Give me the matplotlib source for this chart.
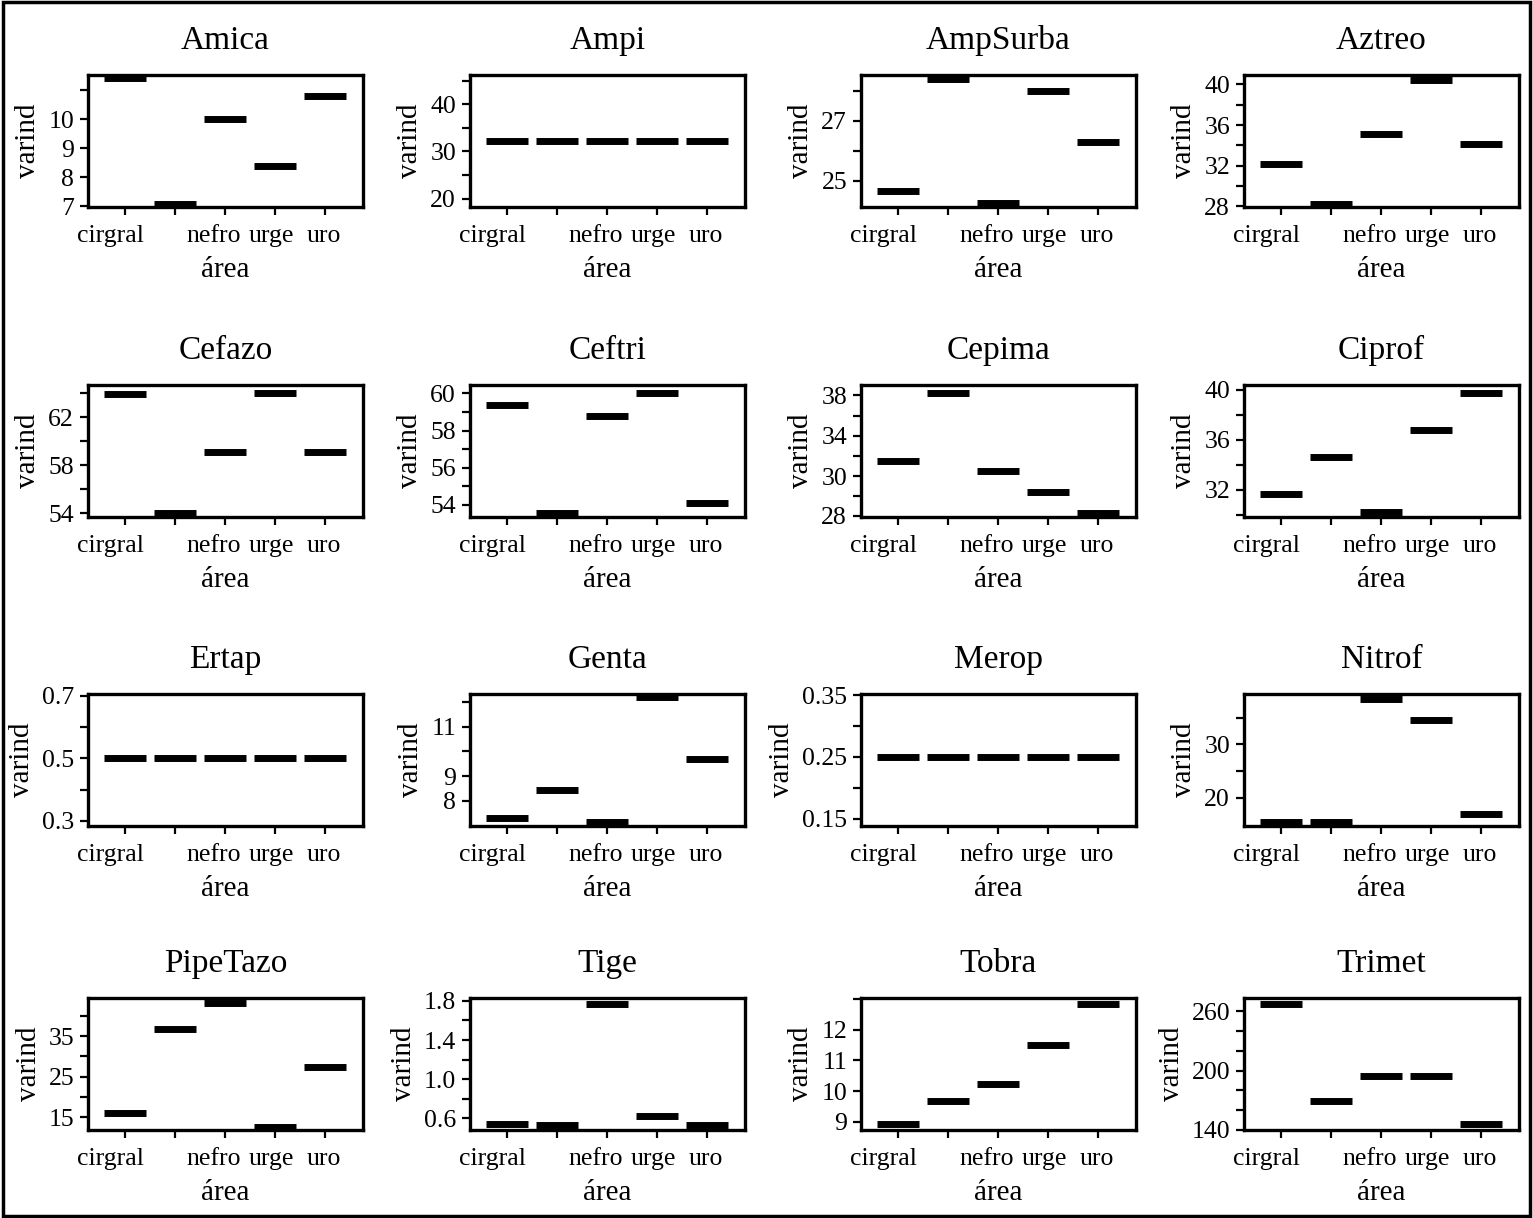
import numpy as np
import matplotlib
matplotlib.use("Agg")
import matplotlib.pyplot as plt
from matplotlib.patches import Rectangle
from matplotlib.transforms import ScaledTranslation

plt.rcParams['font.family'] = ['Liberation Serif', 'DejaVu Serif']

# categories on the x axis (second label is blank in the original)
areas = ['cirgral', 'ginec', 'nefro', 'urge', 'uro']
area_labels = ['cirgral', '', 'nefro', 'urge', 'uro']

antibiotics = ['Amica', 'Ampi', 'AmpSurba', 'Aztreo',
               'Cefazo', 'Ceftri', 'Cepima', 'Ciprof',
               'Ertap', 'Genta', 'Merop', 'Nitrof',
               'PipeTazo', 'Tige', 'Tobra', 'Trimet']

# varind per area, one row per antibiotic
varind = [
    [11.4, 7.1, 10.0, 8.4, 10.8],
    [32.1, 32.1, 32.1, 32.1, 32.1],
    [24.65, 28.4, 24.25, 28.0, 26.3],
    [32.2, 28.2, 35.1, 40.4, 34.1],
    [63.95, 54.0, 59.1, 64.0, 59.1],
    [59.35, 53.55, 58.8, 60.0, 54.1],
    [31.55, 38.25, 30.55, 28.45, 26.4],
    [31.65, 34.6, 30.2, 36.8, 39.75],
    [0.5, 0.5, 0.5, 0.5, 0.5],
    [7.3, 8.45, 7.15, 12.2, 9.7],
    [0.25, 0.25, 0.25, 0.25, 0.25],
    [15.35, 15.35, 38.6, 34.6, 16.9],
    [15.9, 36.85, 43.2, 12.6, 27.35],
    [0.545, 0.53, 1.765, 0.625, 0.53],
    [8.92, 9.68, 10.25, 11.5, 12.85],
    [267.4, 169.0, 195.0, 195.0, 146.0],
]

y_limits = [
    (6.98, 11.52), (18.2, 46.2), (24.12, 28.53), (27.93, 40.93),
    (53.7, 64.7), (53.35, 60.45), (25.97, 39.02), (29.8, 40.4),
    (0.284, 0.705), (6.98, 12.32), (0.138, 0.352), (14.65, 39.45),
    (11.8, 44.45), (0.48, 1.83), (8.74, 13.03), (140.3, 273.5),
]

y_ticks = [
    [7, 8, 9, 10, 11],
    [20, 25, 30, 35, 40, 45],
    [25, 26, 27, 28],
    [28, 30, 32, 34, 36, 38, 40],
    [54, 56, 58, 60, 62, 64],
    [54, 55, 56, 57, 58, 59, 60],
    [26.1, 28, 30, 32, 34, 36, 38],
    [30, 32, 34, 36, 38, 40],
    [0.3, 0.4, 0.5, 0.6, 0.7],
    [8, 9, 10, 11, 12],
    [0.15, 0.2, 0.25, 0.3, 0.35],
    [20, 25, 30, 35],
    [15, 20, 25, 30, 35, 40],
    [0.6, 0.8, 1.0, 1.2, 1.4, 1.6, 1.8],
    [9, 10, 11, 12, 13],
    [140, 160, 180, 200, 220, 240, 260],
]

y_ticklabels = [
    ['7', '8', '9', '10', ''],
    ['20', '', '30', '', '40', ''],
    ['25', '', '27', ''],
    ['28', '', '32', '', '36', '', '40'],
    ['54', '', '58', '', '62', ''],
    ['54', '', '56', '', '58', '', '60'],
    ['28', '', '30', '', '34', '', '38'],
    ['', '32', '', '36', '', '40'],
    ['0.3', '', '0.5', '', '0.7'],
    ['8', '9', '', '11', ''],
    ['0.15', '', '0.25', '', '0.35'],
    ['20', '', '30', ''],
    ['15', '', '25', '', '35', ''],
    ['0.6', '', '1.0', '', '1.4', '', '1.8'],
    ['9', '10', '11', '12', ''],
    ['140', '', '', '200', '', '', '260'],
]

# horizontal nudge of the x tick labels, in pixels (as in the original)
label_shift_px = [-15, 0, -12, -4, -2]

W, H = 1533, 1218
fig = plt.figure(figsize=(W / 100, H / 100), dpi=100)

col_left = [88, 470, 861, 1244]
row_top = [75, 385, 694, 998]
ax_w, ax_h = 275, 132
x = np.arange(1, len(areas) + 1)

for i, name in enumerate(antibiotics):
    r, c = divmod(i, 4)
    rect = [col_left[c] / W, 1 - (row_top[r] + ax_h) / H, ax_w / W, ax_h / H]
    ax = fig.add_axes(rect)
    ax.hlines(varind[i], x - 0.42, x + 0.42, colors='black', lw=5,
              capstyle='butt')
    ax.set_xlim(0.26, 5.75)
    ax.set_ylim(*y_limits[i])
    ax.set_xticks(x)
    ax.set_xticklabels(area_labels)
    ax.set_yticks(y_ticks[i])
    ax.set_yticklabels(y_ticklabels[i])
    ax.tick_params(labelsize=18.5, length=6, width=1.6)
    ax.tick_params(axis='x', pad=7)
    ax.tick_params(axis='y', pad=4)
    for lab, dx in zip(ax.get_xticklabels(), label_shift_px):
        lab.set_transform(lab.get_transform()
                          + ScaledTranslation(dx / 100, 0, fig.dpi_scale_trans))
    for sp in ax.spines.values():
        sp.set_linewidth(2.4)
    ax.set_title(name, fontsize=24, pad=19)
    ax.set_xlabel('área', fontsize=21)
    ax.set_ylabel('varind', fontsize=21, labelpad=5)
    ax.xaxis.set_label_coords(0.5, -0.38)

fig.patches.append(Rectangle((0.002, 0.002), 0.996, 0.996, transform=fig.transFigure,
                             fill=False, edgecolor='black', lw=2.5))

fig.savefig('out.png', dpi=100)
